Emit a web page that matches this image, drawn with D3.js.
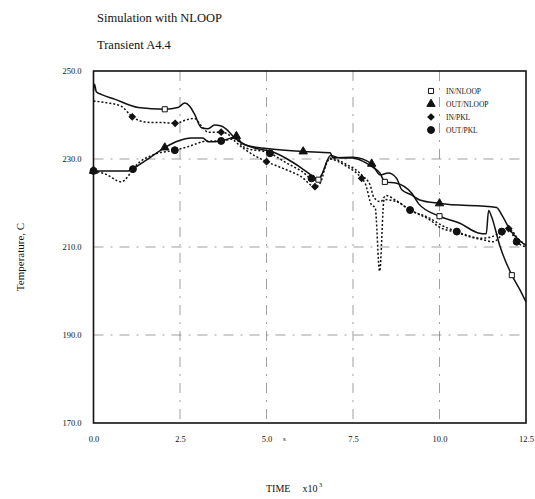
<!DOCTYPE html>
<html>
<head>
<meta charset="utf-8">
<script src="https://cdn.jsdelivr.net/npm/d3@7"></script>
<style>
  body { margin: 0; background: #fff; }
  svg { display: block; }
  text { font-family: "Liberation Serif", "DejaVu Serif", serif; fill: #111; }
</style>
</head>
<body>
<div id="chart"></div>
<script>
// time in units of 10^3 s, temperature in C
const inNloop = [[0,245.5],[0.03,247.0],[0.08,245.3],[0.22,244.7],[0.61,243.6],[1.29,241.7],[2.06,241.3],
  [2.44,241.7],[2.64,242.7],[2.78,242.0],[2.92,240.2],[3.12,237.1],[3.31,236.9],[3.5,237.7],[3.69,237.5],
  [3.89,236.4],[4.08,234.8],[4.37,233.3],[4.7,232.4],[5.1,231.8],[5.6,230.0],[6.0,228.0],[6.3,226.3],
  [6.5,225.3],[6.6,226.5],[6.85,230.8],[7.1,230.3],[7.5,230.2],[7.9,229.0],[8.1,228.0],[8.28,226.8],
  [8.42,224.8],[8.76,224.5],[9.2,222.2],[9.4,219.8],[10.0,217.0],[10.59,215.4],[11.12,213.2],[11.35,213.0],
  [11.42,218.3],[11.5,217.0],[11.75,210.1],[12.09,203.6],[12.33,200.2],[12.5,197.5]];

const outNloop = [[0,227.3],[0.5,227.3],[1.0,227.3],[1.14,227.8],[1.48,229.5],[2.06,232.6],[2.44,234.1],
  [2.83,234.8],[3.16,234.8],[3.31,233.9],[3.69,234.1],[3.98,234.8],[4.13,235.2],[4.27,233.7],[4.47,233.0],
  [5.0,232.4],[6.06,231.7],[6.84,231.4],[6.92,230.3],[7.5,230.4],[8.04,228.9],[8.28,226.4],[8.52,226.8],
  [8.76,225.6],[8.91,223.0],[9.2,221.8],[9.43,220.7],[10.0,219.9],[11.65,219.0],[11.8,217.3],
  [12.04,213.9],[12.5,210.3]];

const inPkl = [[0,243.2],[0.37,242.8],[0.8,242.0],[1.12,239.6],[1.38,238.6],[1.67,238.3],[1.96,238.3],
  [2.36,238.1],[2.73,239.0],[2.92,239.2],[3.12,237.5],[3.31,236.1],[3.69,236.1],[3.89,235.6],[4.08,234.1],
  [4.37,232.2],[5.0,229.4],[5.5,227.8],[6.0,226.0],[6.4,223.7],[6.55,224.5],[6.8,230.0],[7.32,228.3],
  [7.75,225.6],[7.85,224.5],[8.04,219.5],[8.14,219.0],[8.27,204.5],[8.4,220.8],[8.76,220.3],[9.15,218.4],
  [9.73,216.1],[10.0,214.5],[10.5,213.3],[10.88,212.3],[11.22,211.7],[11.55,211.2],[11.8,212.7],
  [12.0,214.2],[12.3,211.6],[12.5,210.5]];

const outPkl = [[0,227.3],[0.37,226.5],[0.8,224.8],[1.0,226.1],[1.14,227.7],[1.77,231.1],[2.35,232.0],
  [2.73,232.8],[3.31,234.1],[3.69,234.1],[4.08,234.6],[4.37,232.6],[5.1,231.3],[5.6,229.0],[6.0,227.3],
  [6.4,225.2],[6.55,225.8],[6.85,230.2],[7.3,228.8],[7.8,226.0],[8.0,224.0],[8.1,221.3],[8.3,220.3],
  [8.45,221.7],[8.76,220.5],[9.15,218.4],[9.73,216.5],[10.0,215.2],[10.5,213.5],[11.22,212.0],
  [11.5,212.3],[11.8,213.5],[12.0,213.9],[12.23,211.2],[12.5,210.0]];

// symbol positions along each curve
const inNloopMarks = [[2.06,241.3],[6.5,225.3],[8.42,224.8],[10.0,217.0],[12.09,203.6]];
const outNloopMarks = [[0,227.3],[2.06,232.6],[4.13,235.2],[6.06,231.7],[8.04,228.9],[10.0,219.9]];
const inPklMarks = [[1.12,239.6],[2.36,238.1],[3.69,236.1],[5.0,229.4],[6.4,223.7],[7.75,225.6],[12.0,214.2]];
const outPklMarks = [[0,227.3],[1.14,227.7],[2.35,232.0],[3.69,234.1],[5.1,231.3],[6.3,225.6],[9.15,218.4],
  [10.5,213.5],[11.8,213.5],[12.23,211.2]];

const xTicks = [0, 2.5, 5, 7.5, 10, 12.5];
const yTicks = [170, 190, 210, 230, 250];
const gridX = [2.5, 5, 7.5, 10];
const gridY = [190, 210, 230];
const legendNames = ["IN/NLOOP", "OUT/NLOOP", "IN/PKL", "OUT/PKL"];

const width = 535, height = 499;
const x = d3.scaleLinear().domain([0, 12.5]).range([93.5, 526]);
const y = d3.scaleLinear().domain([170, 250]).range([423, 71]);

const svg = d3.select("#chart").append("svg")
    .attr("width", width)
    .attr("height", height);

svg.append("text").attr("x", 97).attr("y", 22)
    .style("font-size", "12.5px").text("Simulation with NLOOP");
svg.append("text").attr("x", 97).attr("y", 49)
    .style("font-size", "12.5px").text("Transient A4.4");

// grid
svg.append("g").selectAll("line").data(gridX).join("line")
    .attr("x1", d => x(d)).attr("x2", d => x(d))
    .attr("y1", y(250)).attr("y2", y(170))
    .attr("stroke", "#777").attr("stroke-width", 0.7)
    .attr("stroke-dasharray", "10,7,2,7");
svg.append("g").selectAll("line").data(gridY).join("line")
    .attr("x1", x(0)).attr("x2", x(12.5))
    .attr("y1", d => y(d)).attr("y2", d => y(d))
    .attr("stroke", "#777").attr("stroke-width", 0.7)
    .attr("stroke-dasharray", "10,7,2,7");

// axes (labels only, frame drawn separately)
const xAxis = svg.append("g")
    .attr("transform", `translate(0,${y(170) + 10})`)
    .call(d3.axisBottom(x).tickValues(xTicks).tickFormat(d3.format(".1f")).tickSize(0));
xAxis.select(".domain").remove();
xAxis.selectAll("text").style("font-family", "Liberation Serif").style("font-size", "8.5px").style("fill", "#111");

const yAxis = svg.append("g")
    .attr("transform", `translate(${x(0) - 9},0)`)
    .call(d3.axisLeft(y).tickValues(yTicks).tickFormat(d3.format(".1f")).tickSize(0));
yAxis.select(".domain").remove();
yAxis.selectAll("text").style("font-family", "Liberation Serif").style("font-size", "8.5px").style("fill", "#111");

svg.append("rect")
    .attr("x", x(0)).attr("y", y(250))
    .attr("width", x(12.5) - x(0)).attr("height", y(170) - y(250))
    .attr("fill", "none").attr("stroke", "#111").attr("stroke-width", 1.6);

const line = d3.line()
    .x(d => x(d[0]))
    .y(d => y(d[1]))
    .curve(d3.curveMonotoneX);

// diamonds are drawn as squares turned 45 degrees
const series = [
  { data: inNloop, marks: inNloopMarks, dash: null, sym: d3.symbolSquare, rot: 0, size: 26, filled: false },
  { data: outNloop, marks: outNloopMarks, dash: null, sym: d3.symbolTriangle, rot: 0, size: 30, filled: true },
  { data: inPkl, marks: inPklMarks, dash: "2,2", sym: d3.symbolSquare, rot: 45, size: 20, filled: true },
  { data: outPkl, marks: outPklMarks, dash: "2,2", sym: d3.symbolCircle, rot: 0, size: 38, filled: true }
];

series.forEach(s => {
  svg.append("path")
      .datum(s.data)
      .attr("d", line)
      .attr("fill", "none")
      .attr("stroke", "#111")
      .attr("stroke-width", 1.5)
      .attr("stroke-dasharray", s.dash);
});

series.forEach(s => {
  svg.append("g").selectAll("path").data(s.marks).join("path")
      .attr("transform", d => `translate(${x(d[0])},${y(d[1])}) rotate(${s.rot})`)
      .attr("d", d3.symbol().type(s.sym).size(s.size))
      .attr("fill", s.filled ? "#111" : "#fff")
      .attr("stroke", "#111")
      .attr("stroke-width", 1);
});

// legend
const legend = svg.append("g").attr("transform", "translate(431,91)");
legendNames.forEach((name, i) => {
  const s = series[i];
  legend.append("path")
      .attr("transform", `translate(0,${i * 13}) rotate(${s.rot})`)
      .attr("d", d3.symbol().type(s.sym).size(s.size))
      .attr("fill", s.filled ? "#111" : "#fff")
      .attr("stroke", "#111");
  legend.append("text")
      .attr("x", 15).attr("y", i * 13 + 3)
      .style("font-size", "7.5px")
      .text(name);
});

svg.append("text")
    .attr("transform", `translate(24,${(y(170) + y(250)) / 2 + 10}) rotate(-90)`)
    .attr("text-anchor", "middle")
    .style("font-size", "11px")
    .text("Temperature, C");

svg.append("text").attr("x", 283).attr("y", 441).style("font-size", "7px").text("s");

const xl = svg.append("text").attr("x", 266).attr("y", 492).style("font-size", "10px");
xl.append("tspan").text("TIME");
xl.append("tspan").attr("dx", 12).text("x10");
xl.append("tspan").attr("dy", -5).style("font-size", "6.5px").text(" 3");
</script>
</body>
</html>
